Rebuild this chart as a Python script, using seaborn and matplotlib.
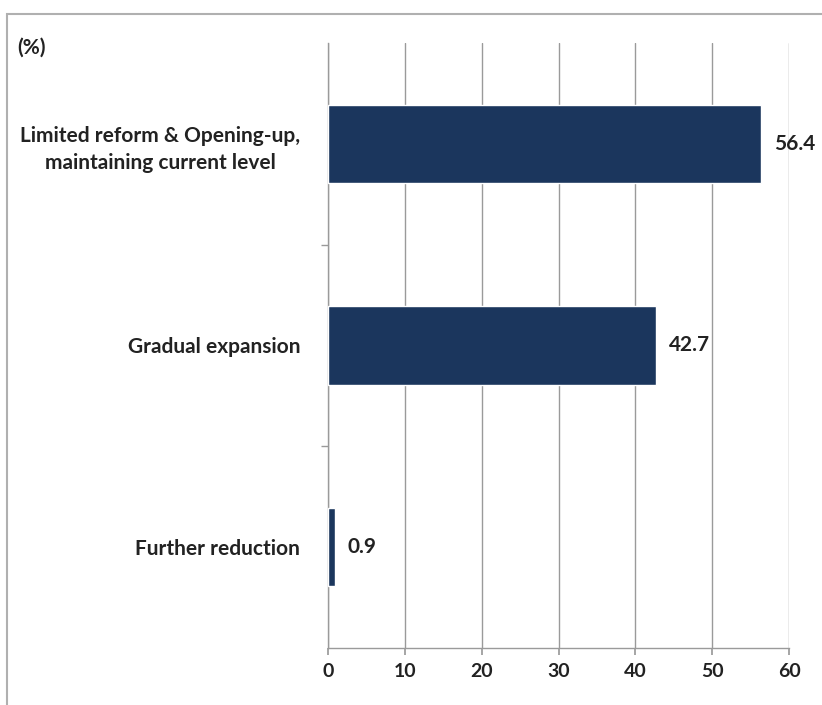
import matplotlib
matplotlib.use("Agg")
import matplotlib.pyplot as plt
import seaborn as sns
import pandas as pd
from matplotlib.patches import Rectangle

categories = ["Limited reform & Opening-up,\nmaintaining current level",
              "Gradual expansion",
              "Further reduction"]
values = [56.4, 42.7, 0.9]
x_ticks = [0, 10, 20, 30, 40, 50, 60]

sns.set_theme(style="white")
plt.rcParams["font.family"] = ["Lato", "DejaVu Sans"]

df = pd.DataFrame({"category": categories, "value": values})

fig = plt.figure(figsize=(8.22, 7.05), dpi=100)
ax = fig.add_axes([0.399, 0.081, 0.561, 0.858])

bar_color = "#1B365D"
sns.barplot(data=df, x="value", y="category", orient="h", color=bar_color,
            width=0.39, saturation=1, ax=ax, zorder=3)

ax.set_xlim(0, 60)
ax.set_ylim(2.5, -0.5)
ax.set_xticks(x_ticks)
ax.set_xticklabels([str(t) for t in x_ticks], fontsize=14, fontweight="bold",
                   color="#222222")
ax.set_xlabel("")
ax.set_ylabel("")

for lbl in ax.get_yticklabels():
    lbl.set_fontsize(15)
    lbl.set_fontweight("bold")
    lbl.set_color("#222222")
    lbl.set_multialignment("center")
    lbl.set_linespacing(1.45)

ax.grid(axis="x", color="#9a9a9a", linewidth=1.0, zorder=0)
ax.set_axisbelow(True)

for side in ["top", "right"]:
    ax.spines[side].set_visible(False)
for side in ["left", "bottom"]:
    ax.spines[side].set_color("#9a9a9a")
    ax.spines[side].set_linewidth(1.0)

ax.tick_params(axis="x", which="major", length=5, color="#9a9a9a",
               direction="out", bottom=True, pad=6)
ax.tick_params(axis="y", which="major", length=0, pad=20)
ax.set_yticks([0.5, 1.5], minor=True)
ax.tick_params(axis="y", which="minor", length=5, color="#9a9a9a",
               direction="out", left=True)

for i, v in enumerate(values):
    ax.annotate(f"{v}", xy=(v, i), xytext=(9, 0), textcoords="offset points",
                va="center", ha="left", fontsize=15, fontweight="bold",
                color="#222222")

fig.text(0.021, 0.933, "(%)", fontsize=15, fontweight="bold",
         color="#222222", ha="left", va="center")

fig.patches.append(Rectangle((7 / 822, -0.05), 1.2, 1.05 - 14 / 705,
                             transform=fig.transFigure, fill=False,
                             edgecolor="#b0b0b0", linewidth=1.5))

fig.savefig("out.png", dpi=100)
